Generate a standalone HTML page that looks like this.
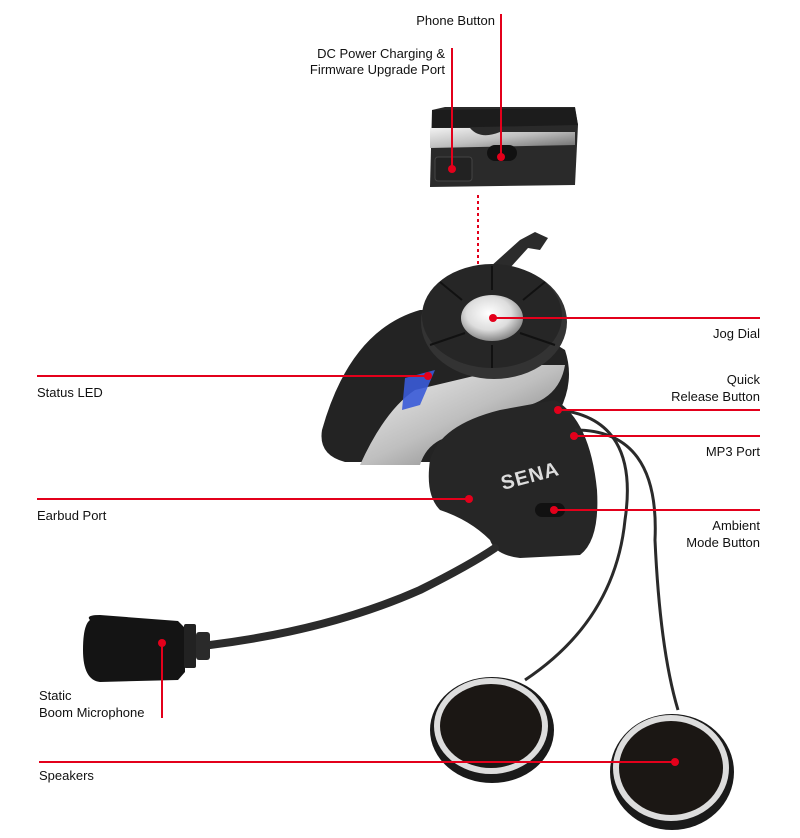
<!DOCTYPE html>
<html><head><meta charset="utf-8"><style>
html,body{margin:0;padding:0;background:#fff;}
svg{display:block;}
text{font-family:"Liberation Sans",Arial,sans-serif;font-size:13px;fill:#111;}
</style></head><body>
<svg width="800" height="838" viewBox="0 0 800 838" xmlns="http://www.w3.org/2000/svg">
<defs>
<linearGradient id="silv" x1="0" y1="0" x2="1" y2="1"><stop offset="0" stop-color="#f2f2f2"/><stop offset=".5" stop-color="#bfbfbf"/><stop offset="1" stop-color="#6a6a6a"/></linearGradient>
<radialGradient id="knob" cx=".45" cy=".4" r=".6"><stop offset="0" stop-color="#fff"/><stop offset=".6" stop-color="#ddd"/><stop offset="1" stop-color="#888"/></radialGradient>
</defs>
<!-- top module -->
<path d="M432 110 L445 107 L575 107 L578 125 L575 185 L430 187 Z" fill="#2a2a2a"/>
<path d="M432 110 L575 108 L578 125 L432 128 Z" fill="#1c1c1c"/>
<path d="M430 128 L470 128 Q480 140 500 132 L575 132 L575 145 L430 148 Z" fill="url(#silv)"/>
<rect x="487" y="145" width="30" height="16" rx="8" fill="#111"/>
<rect x="435" y="157" width="37" height="24" rx="3" fill="#222" stroke="#444"/>
<!-- clip arm -->
<path d="M470 285 L520 240 L535 232 L548 238 L540 250 L528 248 L490 290 Z" fill="#2b2b2b"/>
<!-- body -->
<path d="M420 310 Q350 330 322 430 Q318 455 345 462 L430 462 L560 410 Q575 380 565 350 L500 310 Z" fill="#232323"/>
<path d="M415 390 L520 365 L565 365 Q560 395 530 405 L440 440 Q425 448 420 465 L360 465 Q385 410 415 390 Z" fill="url(#silv)"/>
<path d="M405 378 L435 370 L420 405 L402 410 Z" fill="#3a5bd8" opacity=".9"/>
<ellipse cx="494" cy="322" rx="73" ry="57" fill="#333"/>
<ellipse cx="492" cy="316" rx="70" ry="52" fill="#262626"/>
<g stroke="#111" stroke-width="2"><line x1="440" y1="282" x2="462" y2="300"/><line x1="545" y1="282" x2="523" y2="300"/><line x1="430" y1="345" x2="465" y2="333"/><line x1="555" y1="345" x2="520" y2="333"/><line x1="492" y1="266" x2="492" y2="290"/><line x1="492" y1="345" x2="492" y2="368"/></g>
<ellipse cx="492" cy="318" rx="31" ry="23" fill="url(#knob)"/>
<!-- SENA block -->
<path d="M430 460 Q440 425 500 410 L555 400 Q590 420 597 490 Q600 540 580 555 L520 558 Q495 555 490 540 Q470 520 440 510 Q425 495 430 460 Z" fill="#262626"/>
<text x="503" y="490" transform="rotate(-15 503 490)" style="font-size:20px;font-weight:bold;fill:#ddd;letter-spacing:1px">SENA</text>
<rect x="535" y="503" width="30" height="14" rx="7" fill="#111"/>
<!-- cables -->
<path d="M560 410 Q640 420 625 520 Q615 620 525 680" fill="none" stroke="#2a2a2a" stroke-width="3"/>
<path d="M575 430 Q660 430 655 540 Q660 650 678 710" fill="none" stroke="#2a2a2a" stroke-width="3"/>
<!-- mic boom -->
<path d="M210 645 Q330 630 420 590 Q470 565 495 548" fill="none" stroke="#2b2b2b" stroke-width="8" stroke-linecap="round"/>
<path d="M90 620 Q85 615 100 615 L178 621 L185 628 L185 672 L178 680 L100 682 Q83 680 83 650 Q83 625 90 620 Z" fill="#141414"/>
<rect x="184" y="624" width="12" height="44" rx="2" fill="#222"/>
<rect x="196" y="632" width="14" height="28" rx="3" fill="#2a2a2a"/>
<!-- speakers -->
<ellipse cx="492" cy="730" rx="62" ry="53" fill="#1a1a1a"/>
<ellipse cx="491" cy="726" rx="57" ry="48" fill="#ddd"/>
<ellipse cx="491" cy="726" rx="51" ry="42" fill="#1b1714"/>
<ellipse cx="672" cy="772" rx="62" ry="58" fill="#1a1a1a"/>
<ellipse cx="671" cy="768" rx="58" ry="53" fill="#ddd"/>
<ellipse cx="671" cy="768" rx="52" ry="47" fill="#1b1714"/>
<!-- callouts -->
<g stroke="#e3001b" stroke-width="2" fill="none">
<line x1="501" y1="14" x2="501" y2="157"/>
<line x1="452" y1="48" x2="452" y2="169"/>
<line x1="478" y1="195" x2="478" y2="265" stroke-dasharray="3,3"/>
<line x1="493" y1="318" x2="760" y2="318"/>
<line x1="37" y1="376" x2="428" y2="376"/>
<line x1="558" y1="410" x2="760" y2="410"/>
<line x1="574" y1="436" x2="760" y2="436"/>
<line x1="37" y1="499" x2="469" y2="499"/>
<line x1="554" y1="510" x2="760" y2="510"/>
<line x1="162" y1="643" x2="162" y2="718"/>
<line x1="39" y1="762" x2="675" y2="762"/>
</g>
<g fill="#e3001b">
<circle cx="501" cy="157" r="4"/><circle cx="452" cy="169" r="4"/><circle cx="493" cy="318" r="4"/>
<circle cx="428" cy="376" r="4"/><circle cx="558" cy="410" r="4"/><circle cx="574" cy="436" r="4"/>
<circle cx="469" cy="499" r="4"/><circle cx="554" cy="510" r="4"/><circle cx="162" cy="643" r="4"/>
<circle cx="675" cy="762" r="4"/>
</g>
<!-- labels -->
<g text-anchor="end">
<text x="495" y="25">Phone Button</text>
<text x="445" y="58">DC Power Charging &amp;</text>
<text x="445" y="74">Firmware Upgrade Port</text>
<text x="760" y="338">Jog Dial</text>
<text x="760" y="384">Quick</text>
<text x="760" y="401">Release Button</text>
<text x="760" y="456">MP3 Port</text>
<text x="760" y="530">Ambient</text>
<text x="760" y="547">Mode Button</text>
</g>
<text x="37" y="397">Status LED</text>
<text x="37" y="520">Earbud Port</text>
<text x="39" y="700">Static</text>
<text x="39" y="717">Boom Microphone</text>
<text x="39" y="780">Speakers</text>
</svg>
</body></html>
